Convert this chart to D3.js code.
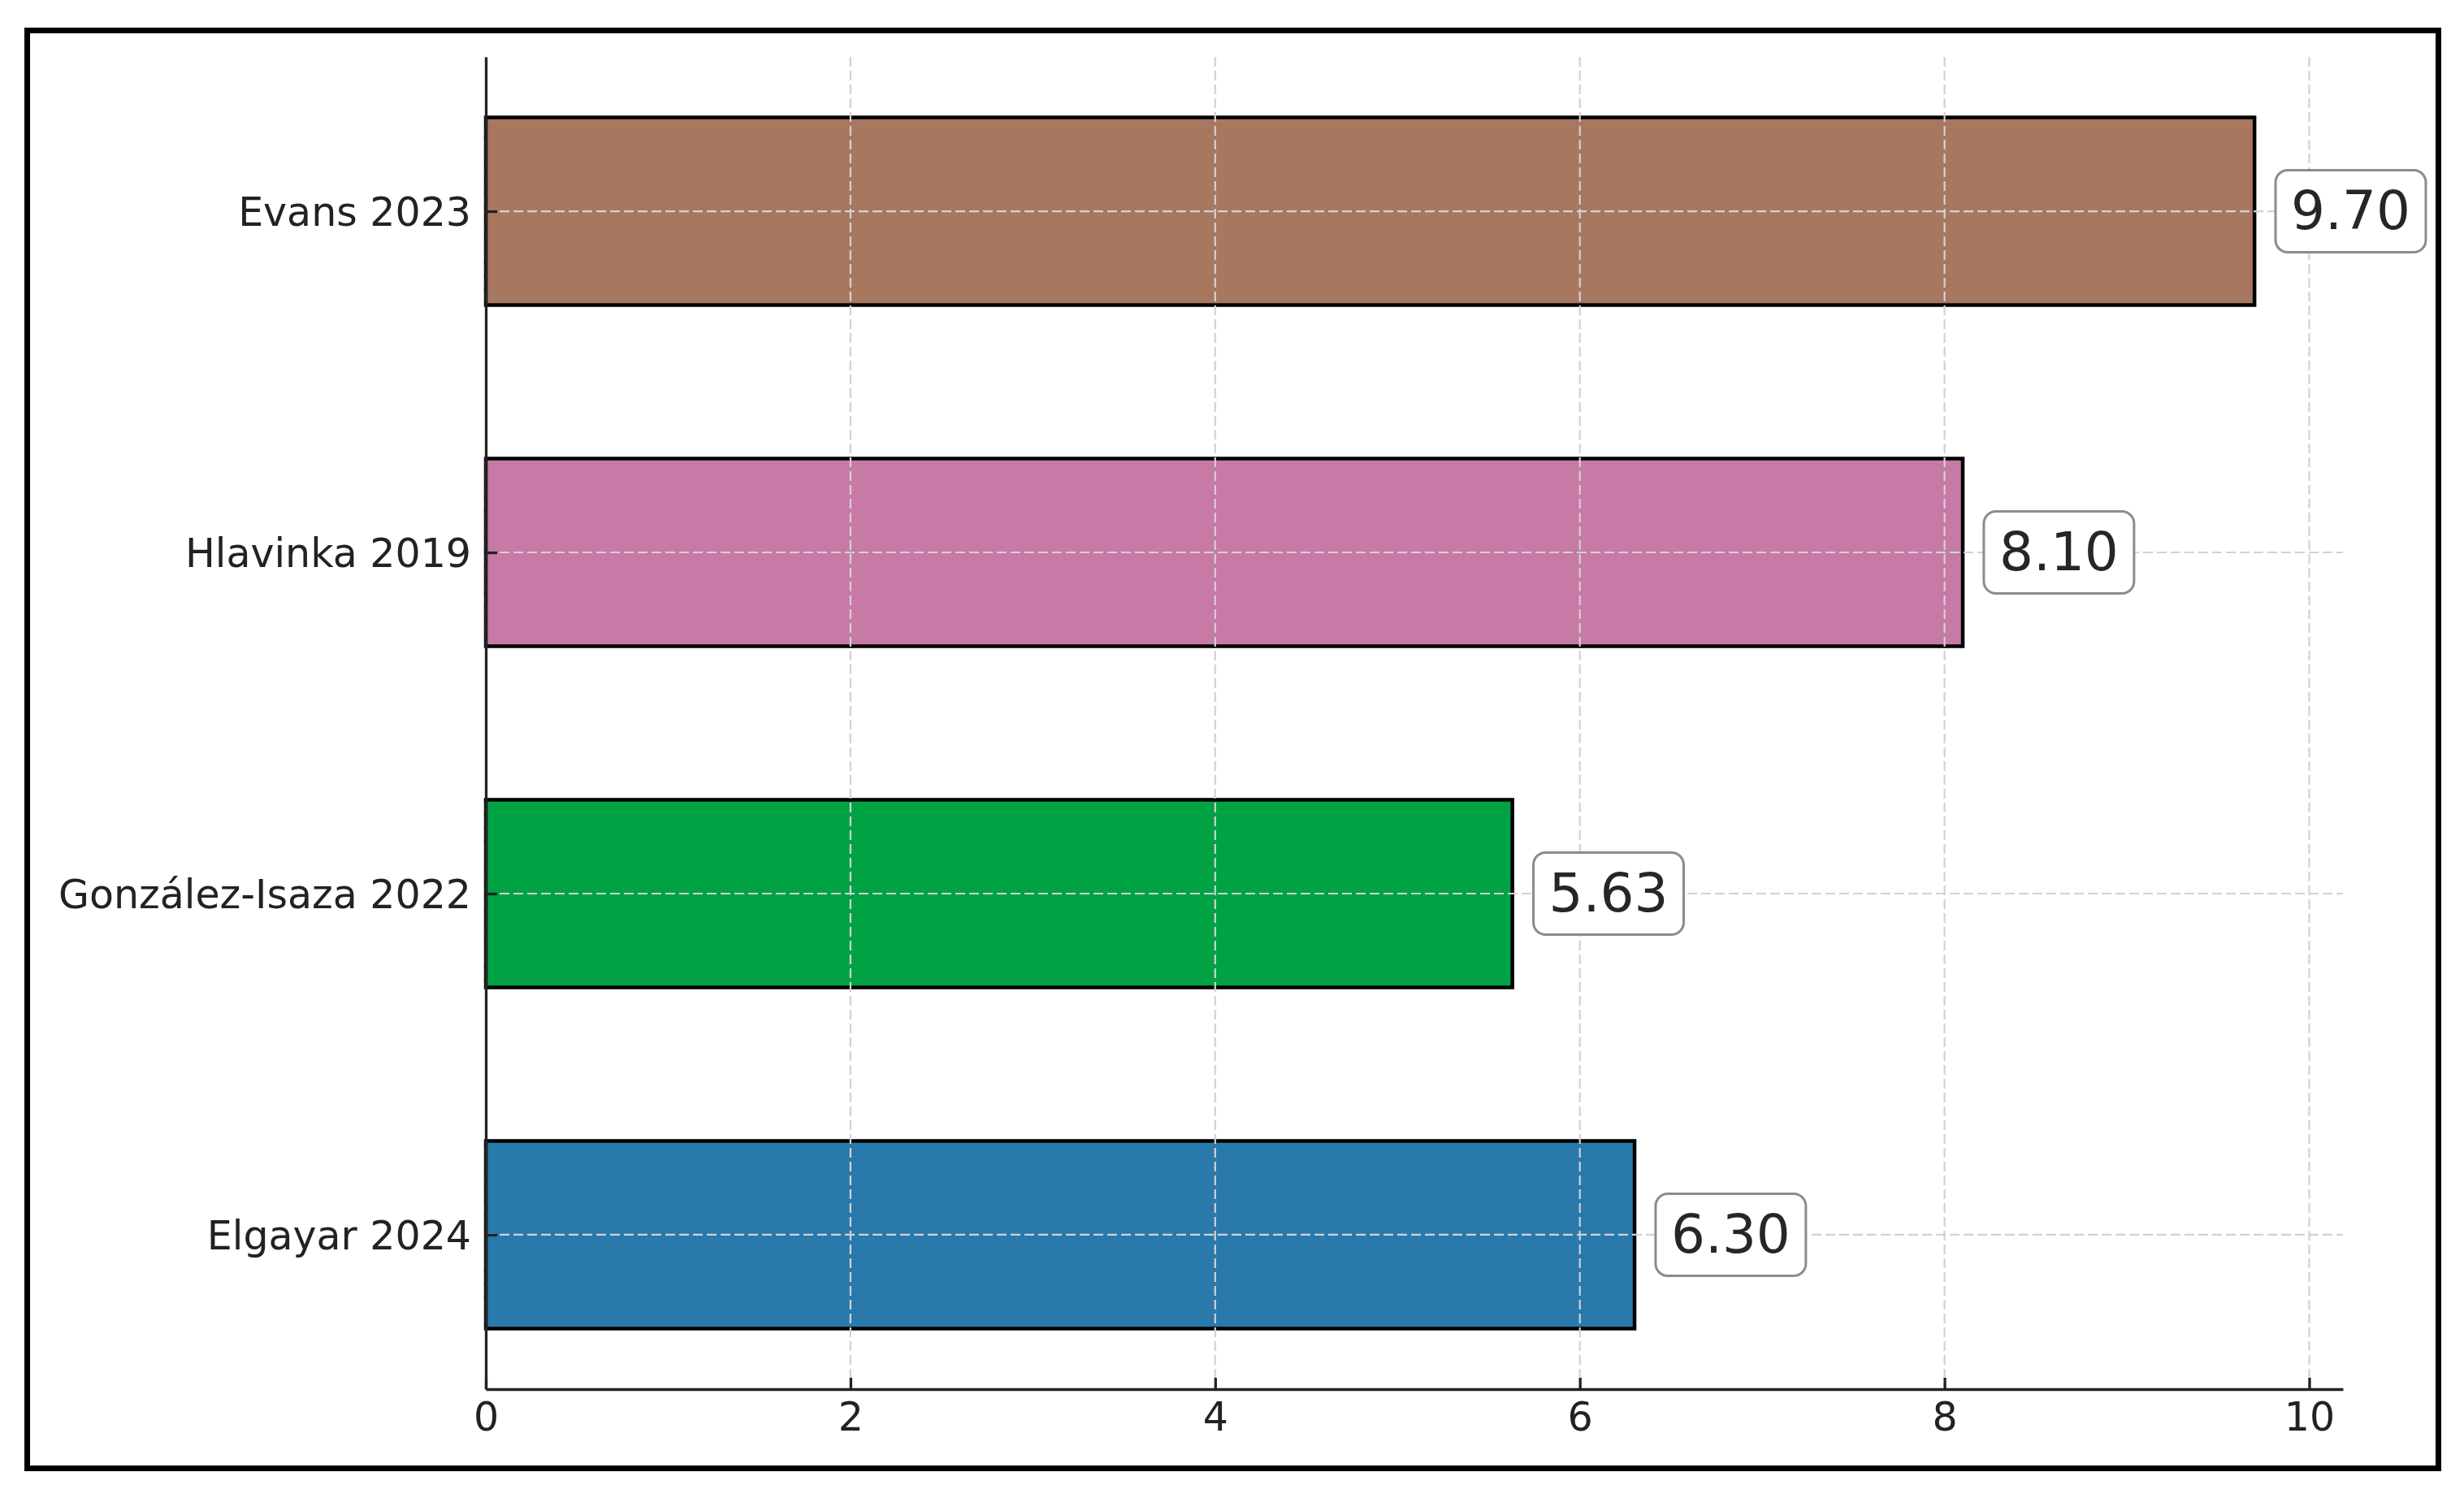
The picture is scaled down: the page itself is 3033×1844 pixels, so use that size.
<!DOCTYPE html>
<html>
<head>
<meta charset="utf-8">
<script src="https://cdn.jsdelivr.net/npm/d3@7/dist/d3.min.js"></script>
<style>
  html, body { margin: 0; padding: 0; background: #fff; }
  svg { display: block; }
  text { font-family: "DejaVu Sans", sans-serif; }
</style>
</head>
<body>
<svg id="chart" width="3033" height="1844"></svg>
<script>
// ---- data (bottom to top, as plotted) ----
const categories = ["Elgayar 2024", "González-Isaza 2022", "Hlavinka 2019", "Evans 2023"];
const values = [6.30, 5.63, 8.10, 9.70];
const barColors = ["#2979AB", "#00A244", "#C67AA5", "#A8775F"];
const xTicks = [0, 2, 4, 6, 8, 10];

// ---- layout ----
const W = 3033, H = 1844;
const plot = { left: 598, right: 2884, top: 70, bottom: 1710 };
const barHeight = 0.55;

const svg = d3.select("#chart");
svg.append("rect").attr("x", 0).attr("y", 0).attr("width", W).attr("height", H).attr("fill", "#fff");

// outer frame
svg.append("rect")
  .attr("x", 33.5).attr("y", 37.5).attr("width", 2968).attr("height", 1770)
  .attr("fill", "none").attr("stroke", "#000").attr("stroke-width", 7);

const xMax = d3.max(values) * 1.05;
const x = d3.scaleLinear().domain([0, xMax]).range([plot.left, plot.right]);
const yPad = (categories.length - 1 + barHeight) * 0.05;
const y = d3.scaleLinear()
  .domain([-barHeight / 2 - yPad, categories.length - 1 + barHeight / 2 + yPad])
  .range([plot.bottom, plot.top]);

const idx = d3.range(categories.length);

// bars
svg.append("g").selectAll("rect").data(idx).join("rect")
  .attr("x", x(0))
  .attr("y", i => y(i + barHeight / 2))
  .attr("width", i => x(values[i]) - x(0))
  .attr("height", i => y(i - barHeight / 2) - y(i + barHeight / 2))
  .attr("fill", i => barColors[i])
  .attr("stroke", "#000")
  .attr("stroke-width", 4.5);

// grid (above bars)
const grid = svg.append("g").attr("stroke", "#d2d2d2").attr("stroke-width", 2.2)
  .attr("stroke-dasharray", "12,5").attr("fill", "none");
grid.selectAll("line.v").data(xTicks).join("line").attr("class", "v")
  .attr("x1", d => x(d)).attr("x2", d => x(d))
  .attr("y1", plot.top).attr("y2", plot.bottom);
grid.selectAll("line.h").data(idx).join("line").attr("class", "h")
  .attr("x1", plot.left).attr("x2", plot.right)
  .attr("y1", i => y(i)).attr("y2", i => y(i));

// axes
const tickLen = 14, tickPad = 15;
const xAxis = d3.axisBottom(x).tickValues(xTicks).tickFormat(d3.format("d"))
  .tickSizeInner(-tickLen).tickSizeOuter(0).tickPadding(tickPad);
const gx = svg.append("g").attr("transform", `translate(0,${plot.bottom})`).call(xAxis);

const yAxis = d3.axisLeft(y).tickValues(idx).tickFormat(i => categories[i])
  .tickSizeInner(-tickLen).tickSizeOuter(0).tickPadding(tickPad + 3);
const gy = svg.append("g").attr("transform", `translate(${plot.left},0)`).call(yAxis);

[gx, gy].forEach(g => {
  g.select(".domain").attr("stroke", "#222").attr("stroke-width", 3.3);
  g.selectAll(".tick line").attr("stroke", "#222").attr("stroke-width", 3.3);
  g.selectAll(".tick text").attr("fill", "#222").attr("font-size", 49)
    .attr("font-family", "DejaVu Sans");
});
gx.selectAll(".tick text").attr("dy", "0.74em");
gy.selectAll(".tick text").attr("dy", "0.36em");

// value labels with rounded boxes
const valFont = 66, pad = 19;
const labels = svg.append("g");
idx.forEach(i => {
  const g = labels.append("g");
  const t = g.append("text")
    .attr("x", x(values[i] + 0.2))
    .attr("y", y(i))
    .attr("dy", "0.34em")
    .attr("font-size", valFont)
    .attr("fill", "#262626")
    .text(values[i].toFixed(2));
  const bb = t.node().getBBox();
  const bh = 101;
  g.insert("rect", "text")
    .attr("x", bb.x - pad)
    .attr("y", y(i) - bh / 2)
    .attr("width", bb.width + 2 * pad)
    .attr("height", bh)
    .attr("rx", 15).attr("ry", 15)
    .attr("fill", "#fff")
    .attr("stroke", "#8c8c8c")
    .attr("stroke-width", 3);
});
</script>
</body>
</html>
